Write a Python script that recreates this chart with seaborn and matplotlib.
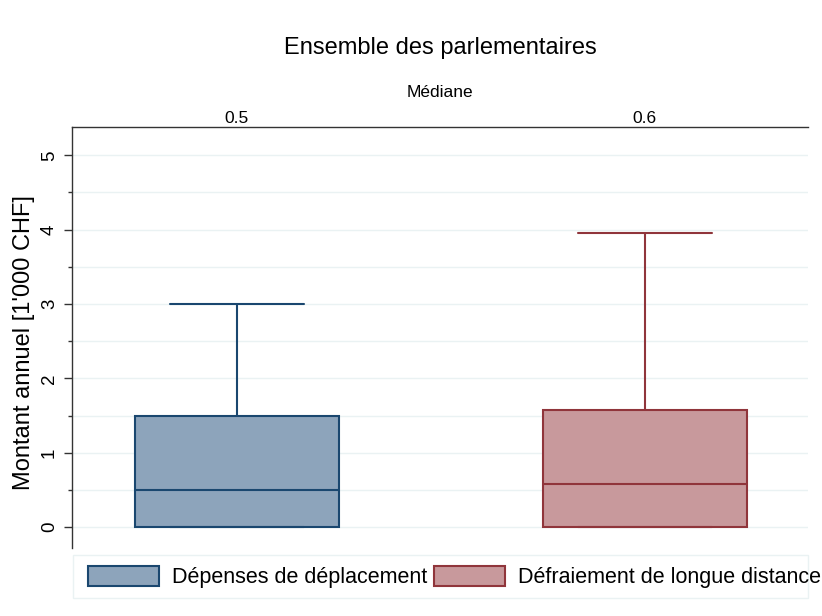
import numpy as np
import pandas as pd
import matplotlib
matplotlib.use("Agg")
import matplotlib.pyplot as plt
import seaborn as sns
from matplotlib.patches import Patch, Rectangle

# Five-number summaries (min, q1, median, q3, max), in 1'000 CHF
series = ["Dépenses de déplacement", "Défraiement de longue distance"]
deplacement = [0.0, 0.0, 0.50, 1.50, 3.00]
longue_distance = [0.0, 0.0, 0.58, 1.58, 3.95]
fill_colors = ["#8da4bb", "#c8999c"]
edge_colors = ["#1a476f", "#90353b"]

data = pd.DataFrame({
    "serie": [series[0]] * len(deplacement) + [series[1]] * len(longue_distance),
    "montant": deplacement + longue_distance,
})

sns.set_style("white")
plt.rcParams["font.family"] = ["Liberation Sans", "DejaVu Sans"]
plt.rcParams.update({"text.color": "black", "axes.labelcolor": "black",
                     "xtick.color": "black", "ytick.color": "black"})

fig = plt.figure(figsize=(8.22, 6.16), dpi=100)
ax_rect = [0.0876, 0.1104, 0.8954, 0.6834]
ax = fig.add_axes(ax_rect)

# Light horizontal grid every 0.5
ax.set_yticks(np.arange(0, 5.01, 1))
ax.set_yticks(np.arange(0.5, 5.01, 1), minor=True)
ax.grid(axis="y", which="both", color="#eaf2f3", linewidth=1)
ax.set_axisbelow(True)

for s, fc, ec in zip(series, fill_colors, edge_colors):
    sns.boxplot(data=data[data["serie"] == s], x="serie", y="montant", order=series,
                color=fc, linecolor=ec, linewidth=1.5, saturation=1, width=0.5,
                whis=np.inf, capwidths=0.33, ax=ax)

ax.set_xlim(-0.404, 1.40)
ax.set_ylim(-0.28, 5.38)

# Median labels on the top axis
medians = data.groupby("serie", sort=False)["montant"].median()
ax.xaxis.tick_top()
ax.xaxis.set_label_position("top")
ax.set_xticks(range(len(series)))
ax.set_xticklabels([f"{m:.1f}" for m in medians.loc[series]], fontsize=12.5)
ax.tick_params(axis="x", length=0, pad=1)
ax.set_xlabel("Médiane", fontsize=12.5, labelpad=10)

ax.tick_params(axis="y", which="major", length=6, width=1, direction="out", left=True,
               labelsize=13.5, color="#333333", pad=4)
ax.tick_params(axis="y", which="minor", length=3, width=1, direction="out", left=True,
               color="#333333")
for lab in ax.get_yticklabels():
    lab.set_rotation(90)
    lab.set_va("center")
ax.set_ylabel("Montant annuel [1'000 CHF]", fontsize=17)
ax.yaxis.set_label_coords(-0.05, 0.488)

for side in ["right", "bottom"]:
    ax.spines[side].set_visible(False)
for side in ["left", "top"]:
    ax.spines[side].set_color("#333333")
    ax.spines[side].set_linewidth(1)

fig.text(ax_rect[0] + ax_rect[2] / 2, 0.922, "Ensemble des parlementaires", ha="center",
         va="center", fontsize=17)

# Legend frame drawn separately, entries run slightly past it as in the original
fig.add_artist(Rectangle((73 / 822, 1 - 598 / 616), 735 / 822, 43 / 616,
                         transform=fig.transFigure, facecolor="white",
                         edgecolor="#eaf2f3", linewidth=1))
handles = [Patch(facecolor=fc, edgecolor=ec, linewidth=1.5)
           for fc, ec in zip(fill_colors, edge_colors)]
fig.legend(handles, series, loc="center left", ncol=2, fontsize=15.5,
           bbox_to_anchor=(88 / 822, 1 - 577 / 616),
           handlelength=3.3, handleheight=1.1, handletextpad=0.6, columnspacing=0.3,
           frameon=False, borderaxespad=0, borderpad=0)

fig.savefig("out.png", dpi=100)
